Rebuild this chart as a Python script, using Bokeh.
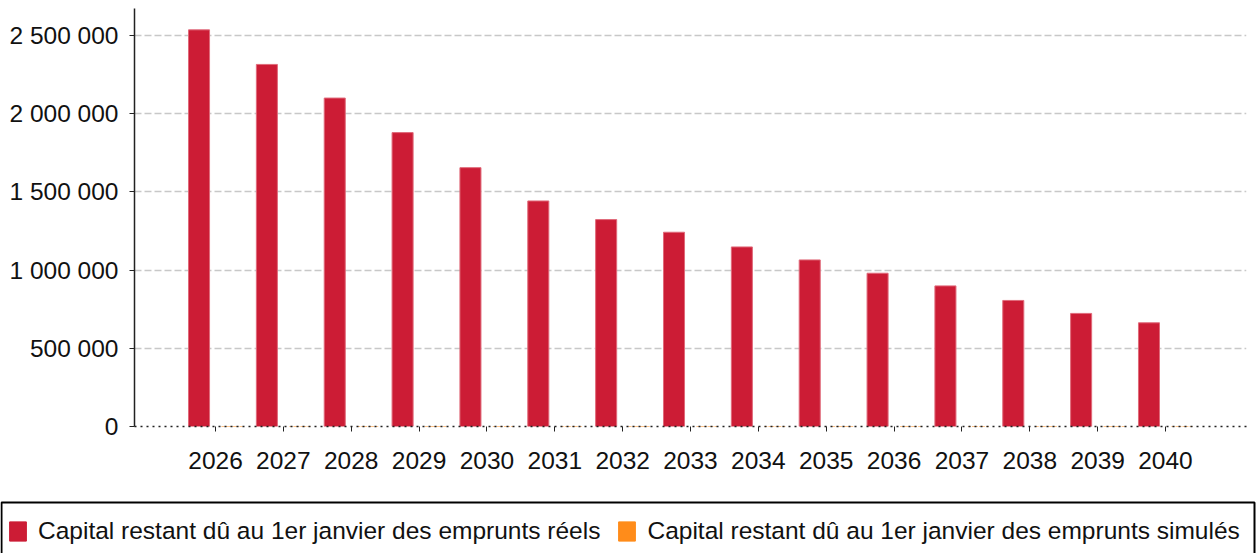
from bokeh.plotting import figure
from bokeh.models import (FixedTicker, Range1d, Legend, LegendItem, ColumnDataSource,
                          BoxAnnotation)
from bokeh.layouts import column, row
from bokeh.embed import file_html
from bokeh.resources import INLINE

years = ["2026", "2027", "2028", "2029", "2030", "2031", "2032", "2033",
         "2034", "2035", "2036", "2037", "2038", "2039", "2040"]
reels = [2536000, 2315000, 2100000, 1879000, 1655000, 1442000, 1323000, 1242000,
         1148000, 1065000, 980000, 899000, 806000, 723000, 663000]
simules = [0] * 15
y_ticks = [0, 500000, 1000000, 1500000, 2000000, 2500000]
y_labels = ["0", "500 000", "1 000 000", "1 500 000", "2 000 000", "2 500 000"]
label_reels = "Capital restant dû au 1er janvier des emprunts réels"
label_simules = "Capital restant dû au 1er janvier des emprunts simulés"

RED = "#cc1c35"
ORANGE = "#ff8c1a"
FONT = "Liberation Sans"

idx = list(range(len(years)))
src = ColumnDataSource(dict(
    x_r=[i - 0.243 for i in idx],
    x_s=[i + 0.243 for i in idx],
    reels=reels,
    simules=simules,
))

p = figure(width=1256, height=495, output_backend="svg", toolbar_location=None,
           x_range=Range1d(-1.194, 15.194), y_range=Range1d(0, 2672600),
           min_border_left=134, min_border_right=10, min_border_top=8,
           min_border_bottom=69)
p.outline_line_color = None
p.background_fill_color = "white"
p.border_fill_color = "white"

r1 = p.vbar(x="x_r", top="reels", bottom=0, width=0.31, source=src,
            fill_color=RED, line_color="#e06a7a", line_width=1)
r2 = p.vbar(x="x_s", top="simules", bottom=0, width=0.31, source=src,
            fill_color=ORANGE, line_color=ORANGE, line_width=1, line_dash="3 4")

# y axis
p.yaxis.ticker = FixedTicker(ticks=y_ticks)
p.yaxis.major_label_overrides = {t: l for t, l in zip(y_ticks, y_labels)}
p.yaxis.axis_line_color = "#222222"
p.yaxis.axis_line_width = 1.5
p.yaxis.major_tick_out = 5
p.yaxis.major_tick_in = 0
p.yaxis.major_tick_line_color = "#222222"
p.yaxis.minor_tick_line_color = None
p.yaxis.major_label_standoff = 11
p.yaxis.major_label_text_font = FONT
p.yaxis.major_label_text_font_size = "24.5px"
p.yaxis.major_label_text_color = "#111111"

# x axis
p.xaxis.ticker = FixedTicker(ticks=idx)
p.xaxis.major_label_overrides = {i: y for i, y in zip(idx, years)}
p.xaxis.axis_line_color = "#222222"
p.xaxis.axis_line_dash = "2 4"
p.xaxis.axis_line_width = 1.5
p.xaxis.major_tick_out = 5
p.xaxis.major_tick_in = 0
p.xaxis.major_tick_line_color = "#222222"
p.xaxis.minor_tick_line_color = None
p.xaxis.major_label_standoff = 20
p.xaxis.major_label_text_font = FONT
p.xaxis.major_label_text_font_size = "24.5px"
p.xaxis.major_label_text_color = "#111111"

# grid
p.xgrid.grid_line_color = None
p.ygrid.ticker = FixedTicker(ticks=y_ticks[1:])
p.ygrid.grid_line_color = "#c8c8c8"
p.ygrid.grid_line_width = 1.5
p.ygrid.grid_line_dash = "7 3"

# legend strip below the chart
q = figure(width=1256, height=58, output_backend="svg", toolbar_location=None,
           x_range=Range1d(0, 1256), y_range=Range1d(0, 58),
           min_border=0, min_border_left=0, min_border_right=0,
           min_border_top=0, min_border_bottom=0)
q.axis.visible = False
q.grid.visible = False
q.outline_line_color = None
q.border_fill_color = "white"
q.background_fill_color = "white"
nan = float("nan")
lr1 = q.vbar(x=[nan], top=[nan], width=1, fill_color=RED, line_color=RED)
lr2 = q.vbar(x=[nan], top=[nan], width=1, fill_color=ORANGE, line_color=ORANGE)
q.add_layout(BoxAnnotation(left=1, right=1254, top=51, bottom=-30,
                           fill_color=None, fill_alpha=0,
                           line_color="black", line_alpha=1, line_width=2))
legend = Legend(items=[LegendItem(label=label_reels, renderers=[lr1]),
                       LegendItem(label=label_simules, renderers=[lr2])],
                orientation="horizontal", location=(7, 8),
                border_line_color=None, background_fill_alpha=0,
                padding=6, spacing=16, margin=0,
                glyph_width=21, glyph_height=24, label_standoff=10,
                label_height=24,
                label_text_font=FONT, label_text_font_size="24.5px",
                label_text_color="#111111")
q.add_layout(legend, "center")

open("out.html", "w").write(file_html(column(p, row(q), spacing=0), INLINE))
